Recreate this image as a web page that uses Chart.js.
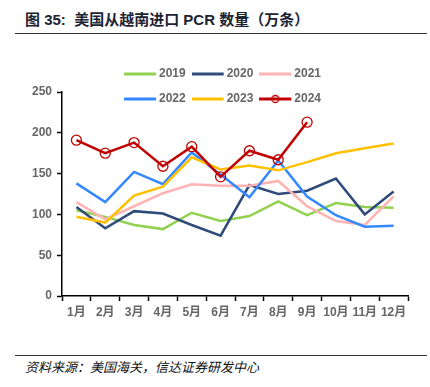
<!DOCTYPE html>
<html>
<head>
<meta charset="utf-8">
<script src="https://cdn.jsdelivr.net/npm/chart.js@4.4.1/dist/chart.umd.min.js"></script>
<style>
body { margin: 0; width: 430px; height: 387px; background: #fff; position: relative; overflow: hidden;
       font-family: "Liberation Sans", "Noto Sans CJK SC", sans-serif; }
#title { position: absolute; left: 25px; top: 8px; font-size: 15px; font-weight: bold; color: #1c2333; white-space: nowrap; }
.rule { position: absolute; left: 15px; width: 412px; height: 1px; background: #333; }
#wrap { position: absolute; left: 0; top: 40px; width: 430px; height: 290px; }
#note { position: absolute; left: 25px; top: 357px; font-size: 13px; font-style: italic; color: #111;
        font-family: "Noto Sans CJK SC", sans-serif; white-space: nowrap; }
</style>
</head>
<body>
<div id="title">图 35:&nbsp; 美国从越南进口 PCR 数量（万条）</div>
<div class="rule" style="top:33px"></div>
<div id="wrap"><canvas id="chart" width="430" height="290"></canvas></div>
<div class="rule" style="top:355px"></div>
<div id="note">资料来源：美国海关，信达证券研发中心</div>
<script>
// dados (万条)
const months = ['1月', '2月', '3月', '4月', '5月', '6月', '7月', '8月', '9月', '10月', '11月', '12月'];
const v2019 = [105, 97, 87, 82, 102, 92, 98, 116, 99, 114, 109, 108];
const v2020 = [109, 83, 104, 101, 87, 74, 136, 125, 129, 144, 100, 128];
const v2021 = [115, 94, 110, 126, 137, 135, 135, 141, 110, 92, 87, 122];
const v2022 = [138, 115, 152, 137, 176, 149, 121, 166, 122, 99, 85, 86];
const v2023 = [97, 90, 123, 134, 170, 155, 160, 154, 164, 175, 181, 187];
const v2024 = [191, 175, 188, 159, 183, 146, 178, 167, 213];
const yTicks = [0, 50, 100, 150, 200, 250];

const series = [
    { label: '2019', data: v2019, color: '#92D050' },
    { label: '2020', data: v2020, color: '#2F4B7A' },
    { label: '2021', data: v2021, color: '#FFB3B3' },
    { label: '2022', data: v2022, color: '#3388FF' },
    { label: '2023', data: v2023, color: '#FFC000' },
    { label: '2024', data: v2024, color: '#C00000', marker: true }
];

// ícone da legenda: linha com círculo opcional
function legendIcon(color, marker) {
    const c = document.createElement('canvas');
    c.width = 36; c.height = 12;
    const g = c.getContext('2d');
    g.strokeStyle = color;
    g.lineWidth = 3;
    g.beginPath(); g.moveTo(0, 6); g.lineTo(32, 6); g.stroke();
    if (marker) {
        g.lineWidth = 1.3;
        g.beginPath(); g.arc(16, 6, 3.5, 0, Math.PI * 2); g.stroke();
    }
    return c;
}

// legenda em duas linhas, sobreposta ao topo da área do gráfico
const legendPlace = {
    id: 'legendPlace',
    afterLayout(chart) {
        const lg = chart.legend;
        lg.maxWidth = 240;
        lg.fit();
        lg.left = 82; lg.right = 370; lg.top = 15; lg.bottom = 80;
        lg.width = lg.right - lg.left;
        lg.height = lg.bottom - lg.top;
    }
};

const datasets = series.map((s, i) => ({
    label: s.label,
    data: s.data,
    borderColor: s.color,
    backgroundColor: s.color,
    borderWidth: 2.5,
    tension: 0,
    order: series.length - 1 - i,
    pointRadius: s.marker ? 5 : 0,
    pointHoverRadius: s.marker ? 5 : 0,
    pointStyle: 'circle',
    pointBorderWidth: 1.3,
    pointBorderColor: s.color,
    pointBackgroundColor: 'rgba(0,0,0,0)'
}));

const ctx = document.getElementById('chart').getContext('2d');
new Chart(ctx, {
    type: 'line',
    data: { labels: months, datasets: datasets },
    plugins: [legendPlace],
    options: {
        responsive: false,
        animation: false,
        layout: { padding: { top: 51, left: 0, right: 22, bottom: 0 } },
        plugins: {
            tooltip: { enabled: false },
            legend: {
                position: 'top',
                maxHeight: 1,
                labels: {
                    usePointStyle: true,
                    pointStyleWidth: 22,
                    padding: 13,
                    color: '#666',
                    font: { family: '"Liberation Sans", Arial, sans-serif', size: 12, weight: 'bold' },
                    generateLabels: () => series.map((s, i) => ({
                        text: s.label,
                        datasetIndex: i,
                        pointStyle: legendIcon(s.color, s.marker),
                        fontColor: '#666',
                        hidden: false,
                        lineWidth: 0
                    }))
                },
                onClick: () => {}
            }
        },
        scales: {
            x: {
                offset: true,
                afterFit: (s) => { s.height = 34; },
                border: { color: '#000', width: 1.5 },
                grid: { offset: true, drawOnChartArea: false, color: '#000', tickLength: 5, tickWidth: 1.5 },
                ticks: {
                    color: '#666', padding: 4, maxRotation: 0, autoSkip: false,
                    font: { family: '"Liberation Sans", "Noto Sans CJK SC", sans-serif', size: 12, weight: 'bold' }
                }
            },
            y: {
                min: 0,
                max: 250,
                afterBuildTicks: (s) => { s.ticks = yTicks.map(v => ({ value: v })); },
                afterFit: (s) => { s.width = 62; },
                border: { color: '#000', width: 1.5 },
                grid: { drawOnChartArea: false, color: '#000', tickLength: 5, tickWidth: 1.5 },
                ticks: {
                    color: '#666', padding: 5,
                    font: { family: '"Liberation Sans", Arial, sans-serif', size: 12, weight: 'bold' }
                }
            }
        }
    }
});
</script>
</body>
</html>
